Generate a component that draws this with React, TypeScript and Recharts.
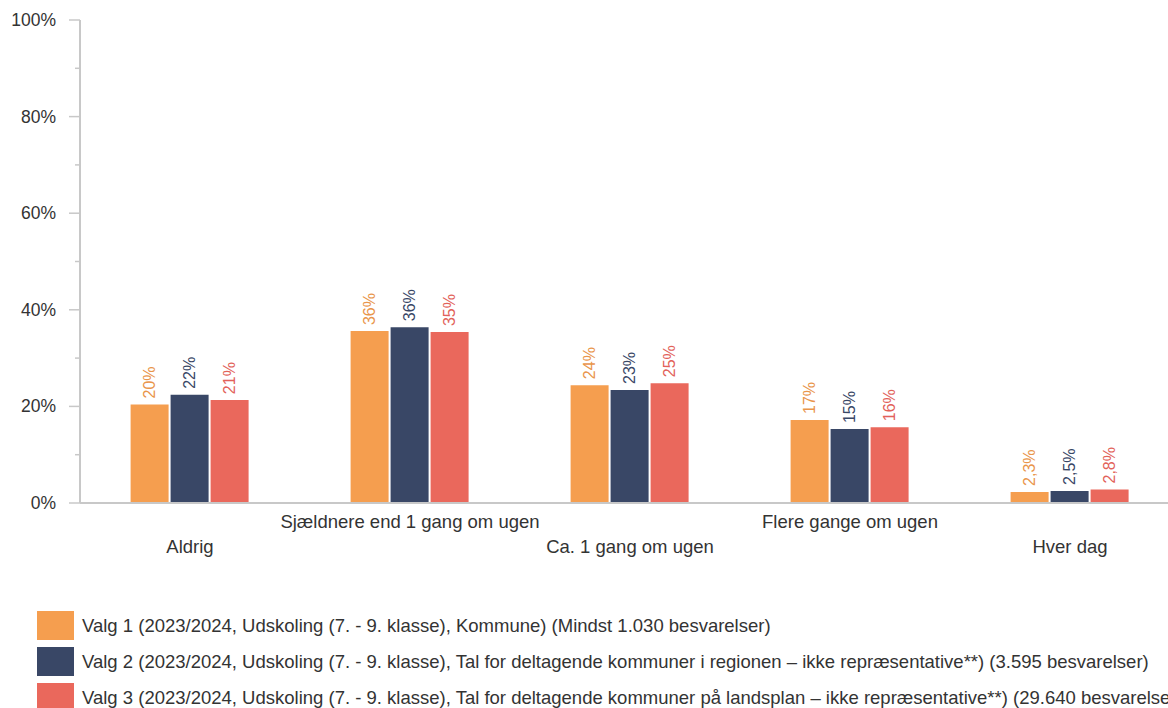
import React from "react";
import { BarChart, Bar, XAxis, YAxis, LabelList } from "recharts";

const categories = ["Aldrig", "Sjældnere end 1 gang om ugen", "Ca. 1 gang om ugen", "Flere gange om ugen", "Hver dag"];
const valg1 = [20.4, 35.6, 24.4, 17.2, 2.3];
const valg2 = [22.4, 36.4, 23.4, 15.3, 2.5];
const valg3 = [21.3, 35.4, 24.8, 15.7, 2.8];
const yTicks = [0, 10, 20, 30, 40, 50, 60, 70, 80, 90, 100];
const seriesNames = [
  "Valg 1 (2023/2024, Udskoling (7. - 9. klasse), Kommune) (Mindst 1.030 besvarelser)",
  "Valg 2 (2023/2024, Udskoling (7. - 9. klasse), Tal for deltagende kommuner i regionen – ikke repræsentative**) (3.595 besvarelser)",
  "Valg 3 (2023/2024, Udskoling (7. - 9. klasse), Tal for deltagende kommuner på landsplan – ikke repræsentative**) (29.640 besvarelser)",
];
const colors = ["#F59E4F", "#394766", "#EA685C"];
const labelColors = ["#E9954B", "#394766", "#E2625A"];

const data = categories.map((c, i) => ({ name: c, v1: valg1[i], v2: valg2[i], v3: valg3[i] }));

const FONT = "'Liberation Sans', Arial, sans-serif";

const fmt = (v: number) => (v < 10 ? v.toFixed(1).replace(".", ",") + "%" : Math.round(v) + "%");

const makeLabel = (color: string) => (props: any) => {
  const { x, y, width, value } = props;
  const cx = Number(x) + Number(width) / 2;
  const ty = Number(y) - 6;
  return (
    <text
      x={cx}
      y={ty}
      transform={`rotate(-90 ${cx} ${ty})`}
      fill={color}
      fontSize={16}
      fontFamily={FONT}
      textAnchor="start"
      dominantBaseline="central"
    >
      {fmt(Number(value))}
    </text>
  );
};

const YTick = (props: any) => {
  const { x, y, payload } = props;
  const v = payload.value;
  const major = v % 20 === 0;
  return (
    <g>
      <line x1={x - (major ? 11 : 5)} x2={x} y1={y} y2={y} stroke="#c8c8c8" strokeWidth={1.5} />
      {major && (
        <text x={x - 24} y={y} textAnchor="end" dominantBaseline="central" fontSize={17.5} fill="#333" fontFamily={FONT}>
          {v}%
        </text>
      )}
    </g>
  );
};

const XTick = (props: any) => {
  const { x, y, payload, index } = props;
  const dy = index % 2 === 0 ? 43 : 18;
  return (
    <text x={x} y={y + dy} textAnchor="middle" dominantBaseline="central" fontSize={18.5} fill="#333" fontFamily={FONT}>
      {payload.value}
    </text>
  );
};

export default function App() {
  return (
    <div
      style={{
        position: "absolute",
        left: 0,
        top: 0,
        width: 1168,
        height: 708,
        overflow: "hidden",
        background: "#fff",
        fontFamily: FONT,
      }}
    >
      <BarChart
        width={1200}
        height={563}
        data={data}
        margin={{ top: 20, right: 20, bottom: 0, left: 0 }}
        barCategoryGap="23%"
        barGap={2}
      >
        <YAxis
          width={80}
          domain={[0, 100]}
          ticks={yTicks}
          interval={0}
          tickSize={0}
          tickMargin={0}
          tickLine={false}
          axisLine={{ stroke: "#c8c8c8", strokeWidth: 2 }}
          tick={<YTick />}
        />
        <XAxis
          dataKey="name"
          height={60}
          interval={0}
          tickSize={0}
          tickMargin={0}
          tickLine={false}
          axisLine={{ stroke: "#c8c8c8", strokeWidth: 2 }}
          tick={<XTick />}
        />
        <Bar dataKey="v1" fill={colors[0]} isAnimationActive={false}>
          <LabelList dataKey="v1" content={makeLabel(labelColors[0])} />
        </Bar>
        <Bar dataKey="v2" fill={colors[1]} isAnimationActive={false}>
          <LabelList dataKey="v2" content={makeLabel(labelColors[1])} />
        </Bar>
        <Bar dataKey="v3" fill={colors[2]} isAnimationActive={false}>
          <LabelList dataKey="v3" content={makeLabel(labelColors[2])} />
        </Bar>
      </BarChart>
      {seriesNames.map((n, i) => (
        <div
          key={n}
          style={{
            position: "absolute",
            left: 37,
            top: 611 + i * 36,
            height: 29,
            display: "flex",
            alignItems: "center",
            whiteSpace: "nowrap",
          }}
        >
          <div style={{ width: 37, height: 29, background: colors[i], flex: "none" }} />
          <span style={{ marginLeft: 8, fontSize: 18.5, color: "#333" }}>{n}</span>
        </div>
      ))}
    </div>
  );
}
